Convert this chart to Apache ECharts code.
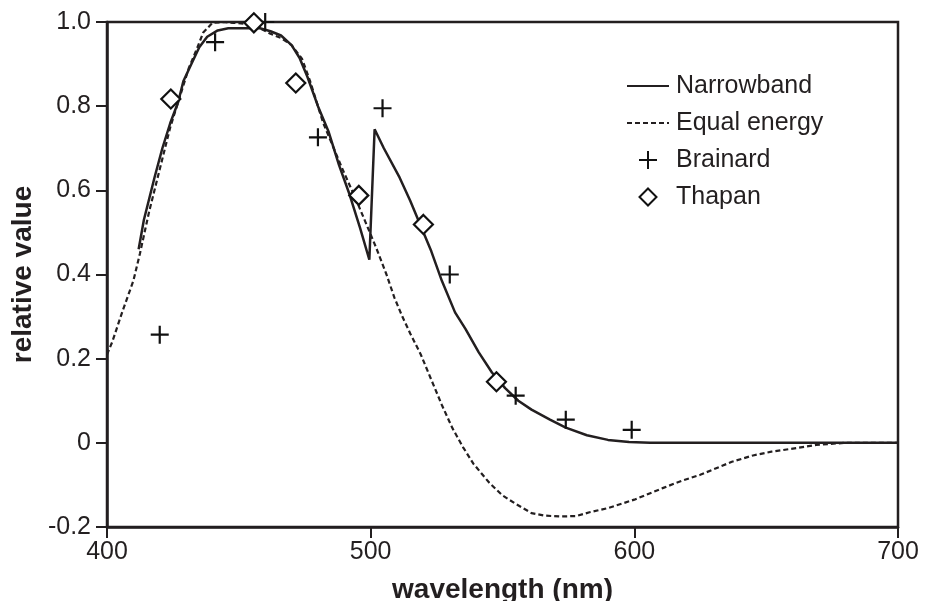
<!DOCTYPE html>
<html>
<head>
<meta charset="utf-8">
<script src="https://cdn.jsdelivr.net/npm/echarts@6/dist/echarts.min.js"></script>
<style>html,body{margin:0;padding:0;background:#fff;}#c{width:927px;height:601px;}</style>
</head>
<body>
<div id="c"></div>
<script>
var xTicks = [400, 500, 600, 700];
var yTicks = [-0.2, 0, 0.2, 0.4, 0.6, 0.8, 1.0];

var nbWl  = [412, 414, 418, 421, 424, 427, 429, 432, 435, 438, 442, 446, 452, 458, 462, 466, 470, 473, 476, 480, 484, 488, 492, 496, 499.5, 501.5, 505, 511, 515, 519, 523, 527, 532, 536, 541, 546, 551, 556, 561, 568, 574, 582, 590, 598, 606, 650, 700];
var nbVal = [0.46, 0.53, 0.63, 0.70, 0.76, 0.81, 0.86, 0.90, 0.94, 0.965, 0.98, 0.985, 0.985, 0.985, 0.978, 0.968, 0.945, 0.915, 0.87, 0.80, 0.74, 0.66, 0.59, 0.51, 0.435, 0.745, 0.70, 0.63, 0.575, 0.515, 0.455, 0.385, 0.31, 0.27, 0.215, 0.167, 0.13, 0.10, 0.079, 0.055, 0.036, 0.018, 0.007, 0.002, 0, 0, 0];

var eeWl  = [400, 402, 406, 410, 412.5, 416, 420, 424, 428, 431, 434, 436.5, 440, 444, 448, 454, 458, 462, 466, 470, 474, 477, 479, 482, 486, 489, 495, 502, 506, 509, 512, 515, 519, 523, 527, 531, 535, 539, 545, 550, 555, 561, 566, 572, 578, 583, 590, 600, 611, 618, 625, 637, 645, 652, 662, 669, 680, 700];
var eeVal = [0.21, 0.24, 0.315, 0.385, 0.45, 0.55, 0.65, 0.75, 0.83, 0.89, 0.935, 0.975, 0.998, 1.0, 0.998, 0.995, 0.985, 0.972, 0.962, 0.945, 0.912, 0.86, 0.82, 0.76, 0.70, 0.655, 0.57, 0.465, 0.40, 0.345, 0.30, 0.26, 0.21, 0.15, 0.09, 0.035, -0.01, -0.05, -0.095, -0.125, -0.145, -0.167, -0.173, -0.175, -0.174, -0.165, -0.155, -0.135, -0.107, -0.09, -0.076, -0.045, -0.03, -0.021, -0.012, -0.005, 0, 0];

var brWl  = [420, 441, 460, 480, 504.5, 530, 555, 574, 599];
var brVal = [0.257, 0.952, 1.0, 0.726, 0.795, 0.40, 0.112, 0.055, 0.031];

var thWl  = [424.2, 455.7, 471.6, 495.5, 520, 547.7];
var thVal = [0.817, 0.998, 0.855, 0.588, 0.519, 0.145];

function pairs(a, b) { return a.map(function (v, i) { return [v, b[i]]; }); }

var ink = '#231f20';
var FONT = '"Liberation Sans", Arial, Helvetica, sans-serif';
var crossPath = 'path://M10,0 L10,20 M0,10 L20,10';
// legend-only icon: diamond in the middle of a 42x18 box (end points keep the box size)
var legendDiamond = 'path://M21,0.5 L29.5,9 L21,17.5 L12.5,9 Z M0,9 L0,9 M42,9 L42,9 M21,0 L21,0 M21,18 L21,18';

var chart = echarts.init(document.getElementById('c'), null, {renderer: 'canvas'});
chart.setOption({
  animation: false,
  backgroundColor: '#ffffff',
  textStyle: {fontFamily: FONT, color: ink},
  grid: {left: 107, right: 29, top: 22, bottom: 74, outerBoundsMode: 'none', containLabel: false,
         show: true, borderColor: ink, borderWidth: 2.5, backgroundColor: 'transparent'},
  legend: {
    orient: 'vertical', left: 621, top: 68,
    itemWidth: 42, itemHeight: 18, itemGap: 11,
    textStyle: {fontSize: 25, fontFamily: FONT, color: ink, lineHeight: 26, padding: [0, 0, 0, 2]},
    data: [
      {name: 'Narrowband', itemStyle: {opacity: 0}},
      {name: 'Equal energy', itemStyle: {opacity: 0}},
      {name: 'Brainard'},
      {name: 'Thapan', icon: legendDiamond}
    ]
  },
  xAxis: {
    type: 'value', min: xTicks[0], max: xTicks[xTicks.length - 1], interval: 100,
    name: 'wavelength (nm)', nameLocation: 'middle', nameGap: 49,
    nameTextStyle: {fontSize: 28, fontWeight: 'bold', fontFamily: FONT, color: ink},
    axisLine: {show: true, onZero: false, lineStyle: {color: ink, width: 2.5}},
    axisTick: {show: true, inside: false, length: 11, lineStyle: {color: ink, width: 2}},
    axisLabel: {fontSize: 25, color: ink, fontFamily: FONT, margin: 13},
    splitLine: {show: false}
  },
  yAxis: {
    type: 'value', min: yTicks[0], max: yTicks[yTicks.length - 1], interval: 0.2,
    name: 'relative value', nameLocation: 'middle', nameGap: 70, nameRotate: 90,
    nameTextStyle: {fontSize: 28, fontWeight: 'bold', fontFamily: FONT, color: ink},
    axisLine: {show: true, onZero: false, lineStyle: {color: ink, width: 2.5}},
    axisTick: {show: true, inside: false, length: 11, lineStyle: {color: ink, width: 2}},
    axisLabel: {fontSize: 25, color: ink, fontFamily: FONT, margin: 16,
      formatter: function (v) { return Math.abs(v) < 1e-9 ? '0' : v.toFixed(1); }},
    splitLine: {show: false}
  },
  series: [
    {name: 'Narrowband', type: 'line', data: pairs(nbWl, nbVal), showSymbol: false, symbol: 'none',
     lineStyle: {color: ink, width: 2.5, type: 'solid'}, itemStyle: {color: ink}, z: 3},
    {name: 'Equal energy', type: 'line', data: pairs(eeWl, eeVal), showSymbol: false, symbol: 'none',
     lineStyle: {color: ink, width: 2.2, type: [5, 3]}, itemStyle: {color: ink}, z: 2},
    {name: 'Brainard', type: 'scatter', data: pairs(brWl, brVal), symbol: crossPath, symbolSize: 18,
     itemStyle: {color: 'none', borderColor: '#111', borderWidth: 2.2, opacity: 1}, z: 4},
    {name: 'Thapan', type: 'scatter', data: pairs(thWl, thVal), symbol: 'diamond', symbolSize: 19,
     itemStyle: {color: '#ffffff', borderColor: '#111', borderWidth: 2.2, opacity: 1}, z: 5}
  ]
});
</script>
</body>
</html>
